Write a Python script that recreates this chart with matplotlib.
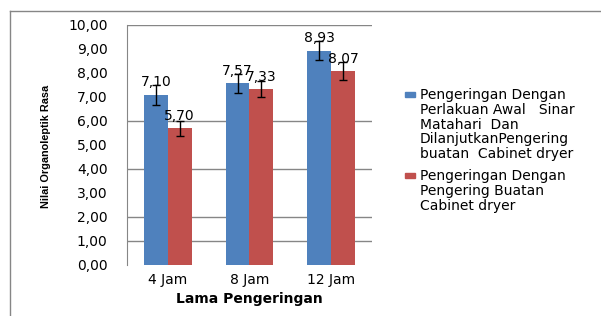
import matplotlib
matplotlib.use("Agg")
import matplotlib.pyplot as plt
from matplotlib.patches import Rectangle
from matplotlib.lines import Line2D
import numpy as np

categories = ["4 Jam", "8 Jam", "12 Jam"]
series_names = [
    "Pengeringan Dengan\nPerlakuan Awal   Sinar\nMatahari  Dan\nDilanjutkanPengering\nbuatan  Cabinet dryer",
    "Pengeringan Dengan\nPengering Buatan\nCabinet dryer",
]
awal_sinar = [7.10, 7.57, 8.93]
cabinet = [5.70, 7.33, 8.07]
err_awal = [0.42, 0.40, 0.40]
err_cabinet = [0.32, 0.35, 0.38]
yticks = [0, 1, 2, 3, 4, 5, 6, 7, 8, 9, 10]
grid_levels = [1, 2, 4, 6, 10]

colors = ["#4F81BD", "#C0504D"]
W, H = 601, 316
fig = plt.figure(figsize=(W / 100, H / 100), dpi=100)
ax = fig.add_axes([127 / W, 1 - 265 / H, (372 - 127) / W, (265 - 25) / H])

x = np.arange(len(categories))
bw = 0.29
for i, (vals, errs) in enumerate([(awal_sinar, err_awal), (cabinet, err_cabinet)]):
    pos = x + (i - 0.5) * bw
    ax.bar(pos, vals, width=bw, color=colors[i], zorder=2)
    ax.errorbar(pos, vals, yerr=errs, fmt="none", ecolor="black",
                elinewidth=1, capsize=3, capthick=1, zorder=4)
    for p, v in zip(pos, vals):
        ax.annotate(f"{v:.2f}".replace(".", ","), (p, v), xytext=(0, 4),
                    textcoords="offset points", ha="center", va="bottom",
                    fontsize=10, zorder=5)

ax.set_xlim(-0.5, len(categories) - 0.5)
ax.set_ylim(0, 10)
ax.set_yticks(yticks)
ax.set_yticklabels([f"{t:.2f}".replace(".", ",") for t in yticks], fontsize=10)
ax.set_xticks(x)
ax.set_xticklabels(categories, fontsize=10)
ax.tick_params(axis="both", length=0)
ax.tick_params(axis="y", pad=14)
ax.tick_params(axis="x", pad=6)
for g in grid_levels:
    ax.axhline(g, color="#868686", lw=1, zorder=1)
for s in ["top", "right", "bottom"]:
    ax.spines[s].set_visible(False)
ax.spines["left"].set_color("#868686")

fig.text(46 / W, 1 - 146 / H, "Nilai Organoleptik Rasa", rotation=90,
         ha="center", va="center", fontsize=7.8, fontweight="bold",
         family=["Liberation Sans Narrow", "Liberation Sans", "DejaVu Sans"])
fig.text(249 / W, 1 - 299 / H, "Lama Pengeringan", ha="center", va="center",
         fontsize=10, fontweight="bold")

# legend
leg_y = [88, 169]
for i, name in enumerate(series_names):
    fig.add_artist(Rectangle((405 / W, 1 - (leg_y[i] + 9) / H), 10 / W, 5 / H,
                             transform=fig.transFigure, color=colors[i]))
    fig.text(420 / W, 1 - leg_y[i] / H, name, ha="left", va="top",
             fontsize=10, linespacing=1.07)

# outer frame
fig.add_artist(Line2D([10 / W, 1], [1 - 11 / H, 1 - 11 / H],
                      transform=fig.transFigure, color="#868686", lw=1))
fig.add_artist(Line2D([10 / W, 10 / W], [1 - 11 / H, 1 - 315 / H],
                      transform=fig.transFigure, color="#868686", lw=1))

fig.savefig("out.png", dpi=100)
